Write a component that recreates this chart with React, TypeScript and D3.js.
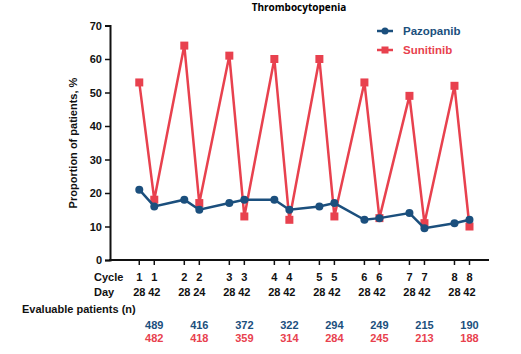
import React, { useRef, useEffect } from 'react';
import * as d3 from 'd3';

// visit labels
const cycles = [1, 1, 2, 2, 3, 3, 4, 4, 5, 5, 6, 6, 7, 7, 8, 8];
const days = [28, 42, 28, 24, 28, 42, 28, 42, 28, 42, 28, 42, 28, 42, 28, 42];

// proportion of patients, %
const pazopanib = [21, 16, 18, 15, 17, 18, 18, 15, 16, 17, 12, 12.5, 14, 9.5, 11, 12];
const sunitinib = [53, 18, 64, 17, 61, 13, 60, 12, 60, 13, 53, 12.5, 49, 11, 52, 10];

// evaluable patients per cycle
const nPazopanib = [489, 416, 372, 322, 294, 249, 215, 190];
const nSunitinib = [482, 418, 359, 314, 284, 245, 213, 188];

const yTicks = [0, 10, 20, 30, 40, 50, 60, 70];

const BLUE = '#1b4f7d';
const RED = '#e8414e';

const W = 521;
const H = 354;

// position index: cycles 3 units apart, day 42 one unit after day 28
const posOf = (i: number) => (cycles[i] - 1) * 3 + (i % 2);

export default function App() {
  const svgRef = useRef<SVGSVGElement>(null);

  useEffect(() => {
    if (!svgRef.current) return;
    const svg = d3.select(svgRef.current);
    svg.selectAll('*').remove();

    const x = d3.scaleLinear().domain([-1.95, 23.3]).range([110, 489]);
    const y = d3.scaleLinear().domain([0, 70]).range([260, 25.5]);
    const font = 'Arial, "Liberation Sans", sans-serif';

    // title
    svg.append('text')
      .attr('x', 299).attr('y', 11)
      .attr('text-anchor', 'middle')
      .attr('font-family', '"Open Sans", sans-serif').attr('font-size', 10).attr('font-weight', 'bold')
      .text('Thrombocytopenia');

    // y axis
    const yAxis = svg.append('g')
      .attr('transform', 'translate(110,0)')
      .call(d3.axisLeft(y).tickValues(yTicks).tickSize(5).tickPadding(3));
    yAxis.select('.domain').attr('stroke', '#111').attr('stroke-width', 2);
    yAxis.selectAll('.tick line').attr('stroke', '#111').attr('stroke-width', 1.5);
    yAxis.selectAll('.tick text')
      .attr('font-family', font).attr('font-size', 11).attr('font-weight', 'bold').attr('fill', '#111');

    svg.append('text')
      .attr('transform', 'translate(77,143) rotate(-90)')
      .attr('text-anchor', 'middle')
      .attr('font-family', font).attr('font-size', 11).attr('font-weight', 'bold').attr('fill', '#111')
      .text('Proportion of patients, %');

    // x axis
    svg.append('line')
      .attr('x1', 109).attr('x2', 489).attr('y1', 260).attr('y2', 260)
      .attr('stroke', '#111').attr('stroke-width', 2);
    const idx = d3.range(cycles.length);
    svg.selectAll('.xtick').data(idx).enter().append('line')
      .attr('x1', i => x(posOf(i))).attr('x2', i => x(posOf(i)))
      .attr('y1', 260).attr('y2', 265)
      .attr('stroke', '#111').attr('stroke-width', 1.5);

    const lbl = { 'font-family': font, 'font-size': 11, 'font-weight': 'bold', fill: '#111' };
    const addText = (sel: any, attrs: any) => {
      Object.entries(attrs).forEach(([k, v]) => sel.attr(k, v));
      return sel;
    };
    addText(svg.append('text').attr('x', 94).attr('y', 281).text('Cycle'), lbl);
    addText(svg.append('text').attr('x', 94).attr('y', 296).text('Day'), lbl);
    idx.forEach(i => {
      addText(svg.append('text').attr('x', x(posOf(i))).attr('y', 281)
        .attr('text-anchor', 'middle').text(String(cycles[i])), lbl);
      addText(svg.append('text').attr('x', x(posOf(i))).attr('y', 296)
        .attr('text-anchor', 'middle').text(String(days[i])), lbl);
    });
    addText(svg.append('text').attr('x', 22).attr('y', 313).text('Evaluable patients (n)'), lbl);

    nPazopanib.forEach((n, c) => {
      addText(svg.append('text').attr('x', x(c * 3 + 1)).attr('y', 329)
        .attr('text-anchor', 'middle').text(String(n)), { ...lbl, fill: BLUE });
      addText(svg.append('text').attr('x', x(c * 3 + 1)).attr('y', 342)
        .attr('text-anchor', 'middle').text(String(nSunitinib[c])), { ...lbl, fill: RED });
    });

    const line = d3.line<number>().x((_, i) => x(posOf(i))).y(d => y(d));

    // sunitinib (behind)
    svg.append('path').datum(sunitinib)
      .attr('d', line).attr('fill', 'none').attr('stroke', RED).attr('stroke-width', 2.5);
    svg.selectAll('.sq').data(sunitinib).enter().append('rect')
      .attr('x', (_, i) => x(posOf(i)) - 4).attr('y', d => y(d) - 4)
      .attr('width', 8).attr('height', 8).attr('fill', RED);

    // pazopanib
    svg.append('path').datum(pazopanib)
      .attr('d', line).attr('fill', 'none').attr('stroke', BLUE).attr('stroke-width', 2.5);
    svg.selectAll('.dot').data(pazopanib).enter().append('circle')
      .attr('cx', (_, i) => x(posOf(i))).attr('cy', d => y(d))
      .attr('r', 4).attr('fill', BLUE);

    // legend
    const legend = [
      { name: 'Pazopanib', color: BLUE, shape: 'circle', yy: 31 },
      { name: 'Sunitinib', color: RED, shape: 'square', yy: 50 },
    ];
    legend.forEach(l => {
      svg.append('line').attr('x1', 377).attr('x2', 393).attr('y1', l.yy).attr('y2', l.yy)
        .attr('stroke', l.color).attr('stroke-width', 2.5);
      if (l.shape === 'circle') {
        svg.append('circle').attr('cx', 385).attr('cy', l.yy).attr('r', 3.5).attr('fill', l.color);
      } else {
        svg.append('rect').attr('x', 381.5).attr('y', l.yy - 3.5).attr('width', 7).attr('height', 7).attr('fill', l.color);
      }
      addText(svg.append('text').attr('x', 403).attr('y', l.yy + 4).text(l.name), { ...lbl, fill: l.color, 'font-size': 11.5 });
    });
  }, []);

  return (
    <svg
      ref={svgRef}
      width={W}
      height={H}
      style={{ position: 'absolute', left: 0, top: 0, background: '#fff' }}
    />
  );
}
